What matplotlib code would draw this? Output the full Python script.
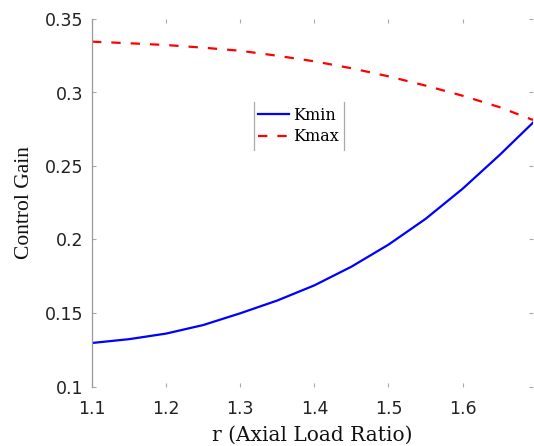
import matplotlib
matplotlib.use("Agg")
import matplotlib.pyplot as plt
from matplotlib.lines import Line2D

r = [1.10, 1.15, 1.20, 1.25, 1.30, 1.35, 1.40, 1.45, 1.50, 1.55, 1.60, 1.65, 1.695]
kmin = [0.1296, 0.1322, 0.1360, 0.1418, 0.1498, 0.1585, 0.1688, 0.1815,
        0.1965, 0.2140, 0.2345, 0.2575, 0.2795]
kmax = [0.3346, 0.3335, 0.3323, 0.3305, 0.3284, 0.3250, 0.3212, 0.3165,
        0.3110, 0.3047, 0.2978, 0.2900, 0.2813]
xticks = [1.1, 1.2, 1.3, 1.4, 1.5, 1.6]
xticklabels = ["1.1", "1.2", "1.3", "1.4", "1.5", "1.6"]
yticks = [0.1, 0.15, 0.2, 0.25, 0.3, 0.35]
yticklabels = ["0.1", "0.15", "0.2", "0.25", "0.3", "0.35"]

fig = plt.figure(figsize=(5.34, 4.46), dpi=100)
ax = fig.add_axes([92/534, 59.5/446, 441/534, 367.5/446])

ax.plot(r, kmin, color="#0000ff", lw=1.6, label="Kmin")
ax.plot(r, kmax, color="#ff0000", lw=1.6, dashes=(4.2, 4.5), label="Kmax")

ax.set_xlim(1.1, 1.695)
ax.set_ylim(0.1, 0.35)
ax.set_xticks(xticks)
ax.set_xticklabels(xticklabels)
ax.set_yticks(yticks)
ax.set_yticklabels(yticklabels)

for side in ["top", "right", "bottom"]:
    ax.spines[side].set_visible(False)
ax.spines["left"].set_color("#999999")
ax.spines["left"].set_linewidth(0.9)

ax.tick_params(direction="in", length=3, width=0.8, color="#aaaaaa",
               top=True, right=True, labelsize=12.5, labelcolor="#222222")
ax.tick_params(axis="x", pad=10)
ax.tick_params(axis="y", pad=6)

ax.set_xlabel("r (Axial Load Ratio)", family="DejaVu Serif", fontsize=14.5,
              color="#111111", labelpad=5)
ax.set_ylabel("Control Gain", family="Liberation Serif", fontsize=15.5,
              color="#111111", labelpad=8)

leg = ax.legend(loc="center", bbox_to_anchor=(0.469, 0.709), frameon=False,
                handlelength=1.9, handletextpad=0.3, labelspacing=0.3,
                borderpad=0.3, prop={"family": "DejaVu Serif", "size": 11.5})

fig.canvas.draw()
bb = leg.get_window_extent().transformed(fig.transFigure.inverted())
for xe in (bb.x0, bb.x1):
    fig.add_artist(Line2D([xe, xe], [bb.y0, bb.y1], transform=fig.transFigure,
                          color="#aaaaaa", lw=0.9))

fig.savefig("out.png", dpi=100)
